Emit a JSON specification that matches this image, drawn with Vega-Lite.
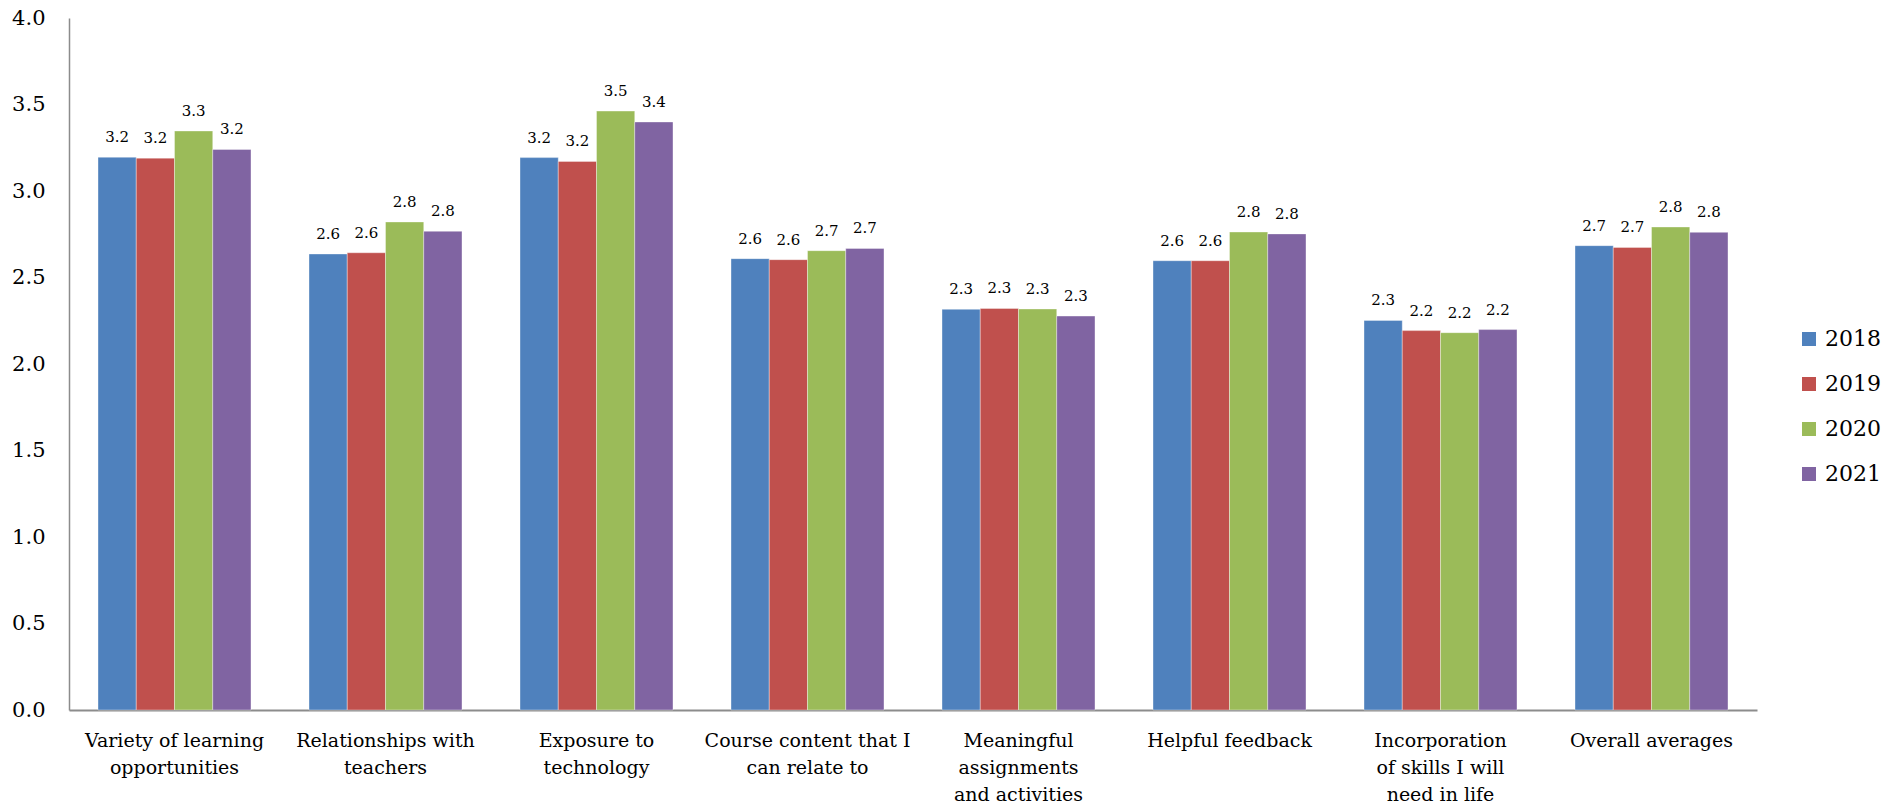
{
  "$schema": "https://vega.github.io/schema/vega-lite/v6.json",
  "autosize": {"type": "none"},
  "padding": {"left": 69, "top": 18, "right": 135, "bottom": 97},
  "width": 1688,
  "height": 692,
  "background": "white",
  "config": {
    "view": {"stroke": null},
    "font": "DejaVu Serif"
  },
  "data": {
    "values": [
      {"category": "Variety of learning\nopportunities", "year": "2018", "score": 3.195},
      {"category": "Variety of learning\nopportunities", "year": "2019", "score": 3.19},
      {"category": "Variety of learning\nopportunities", "year": "2020", "score": 3.347},
      {"category": "Variety of learning\nopportunities", "year": "2021", "score": 3.24},
      {"category": "Relationships with\nteachers", "year": "2018", "score": 2.636},
      {"category": "Relationships with\nteachers", "year": "2019", "score": 2.643},
      {"category": "Relationships with\nteachers", "year": "2020", "score": 2.821},
      {"category": "Relationships with\nteachers", "year": "2021", "score": 2.767},
      {"category": "Exposure to\ntechnology", "year": "2018", "score": 3.193},
      {"category": "Exposure to\ntechnology", "year": "2019", "score": 3.171},
      {"category": "Exposure to\ntechnology", "year": "2020", "score": 3.462},
      {"category": "Exposure to\ntechnology", "year": "2021", "score": 3.399},
      {"category": "Course content that I\ncan relate to", "year": "2018", "score": 2.609},
      {"category": "Course content that I\ncan relate to", "year": "2019", "score": 2.603},
      {"category": "Course content that I\ncan relate to", "year": "2020", "score": 2.655},
      {"category": "Course content that I\ncan relate to", "year": "2021", "score": 2.668},
      {"category": "Meaningful\nassignments\nand activities", "year": "2018", "score": 2.316},
      {"category": "Meaningful\nassignments\nand activities", "year": "2019", "score": 2.321},
      {"category": "Meaningful\nassignments\nand activities", "year": "2020", "score": 2.318},
      {"category": "Meaningful\nassignments\nand activities", "year": "2021", "score": 2.277},
      {"category": "Helpful feedback", "year": "2018", "score": 2.597},
      {"category": "Helpful feedback", "year": "2019", "score": 2.597},
      {"category": "Helpful feedback", "year": "2020", "score": 2.763},
      {"category": "Helpful feedback", "year": "2021", "score": 2.752},
      {"category": "Incorporation\nof skills I will\nneed in life", "year": "2018", "score": 2.252},
      {"category": "Incorporation\nof skills I will\nneed in life", "year": "2019", "score": 2.193},
      {"category": "Incorporation\nof skills I will\nneed in life", "year": "2020", "score": 2.181},
      {"category": "Incorporation\nof skills I will\nneed in life", "year": "2021", "score": 2.199},
      {"category": "Overall averages", "year": "2018", "score": 2.684},
      {"category": "Overall averages", "year": "2019", "score": 2.674},
      {"category": "Overall averages", "year": "2020", "score": 2.792},
      {"category": "Overall averages", "year": "2021", "score": 2.761}
    ]
  },
  "encoding": {
    "x": {
      "field": "category",
      "type": "nominal",
      "sort": null,
      "scale": {"paddingInner": 0.275, "paddingOuter": 0.1375},
      "axis": {
        "title": null,
        "labelAngle": 0,
        "labelFont": "DejaVu Serif",
        "labelFontSize": 19,
        "labelColor": "#000000",
        "labelLineHeight": 27,
        "labelPadding": 21,
        "labelLimit": 400,
        "labelOverlap": false,
        "labelExpr": "split(datum.label, '\\n')",
        "ticks": false,
        "tickSize": 0,
        "domainColor": "#8c8c8c",
        "domainWidth": 2,
        "grid": false
      }
    },
    "xOffset": {"field": "year", "type": "nominal"},
    "y": {
      "field": "score",
      "type": "quantitative",
      "scale": {"domain": [0, 4], "nice": false},
      "axis": {
        "title": null,
        "values": [0, 0.5, 1, 1.5, 2, 2.5, 3, 3.5, 4],
        "format": ".1f",
        "labelFont": "DejaVu Serif",
        "labelFontSize": 21,
        "labelColor": "#000000",
        "labelPadding": 24,
        "ticks": false,
        "tickSize": 0,
        "grid": false,
        "domainColor": "#8c8c8c",
        "domainWidth": 1.5
      }
    }
  },
  "layer": [
    {
      "mark": {"type": "bar", "stroke": "#ffffff", "strokeWidth": 0.6, "strokeOpacity": 0.6},
      "encoding": {
        "color": {
          "field": "year",
          "type": "nominal",
          "scale": {
            "domain": ["2018", "2019", "2020", "2021"],
            "range": ["#4F81BD", "#C0504D", "#9BBB59", "#8064A2"]
          },
          "legend": {
            "title": null,
            "orient": "none",
            "legendX": 1729,
            "legendY": 310,
            "padding": 0,
            "symbolType": "square",
            "symbolSize": 196,
            "symbolStrokeWidth": 0,
            "labelFont": "DejaVu Serif",
            "labelFontSize": 22,
            "labelColor": "#000000",
            "labelOffset": 5,
            "rowPadding": 23
          }
        }
      }
    },
    {
      "mark": {
        "type": "text",
        "baseline": "alphabetic",
        "align": "center",
        "dy": -15,
        "font": "DejaVu Serif",
        "fontSize": 15,
        "color": "#000000"
      },
      "encoding": {
        "text": {"field": "score", "type": "quantitative", "format": ".1f"}
      }
    }
  ]
}
